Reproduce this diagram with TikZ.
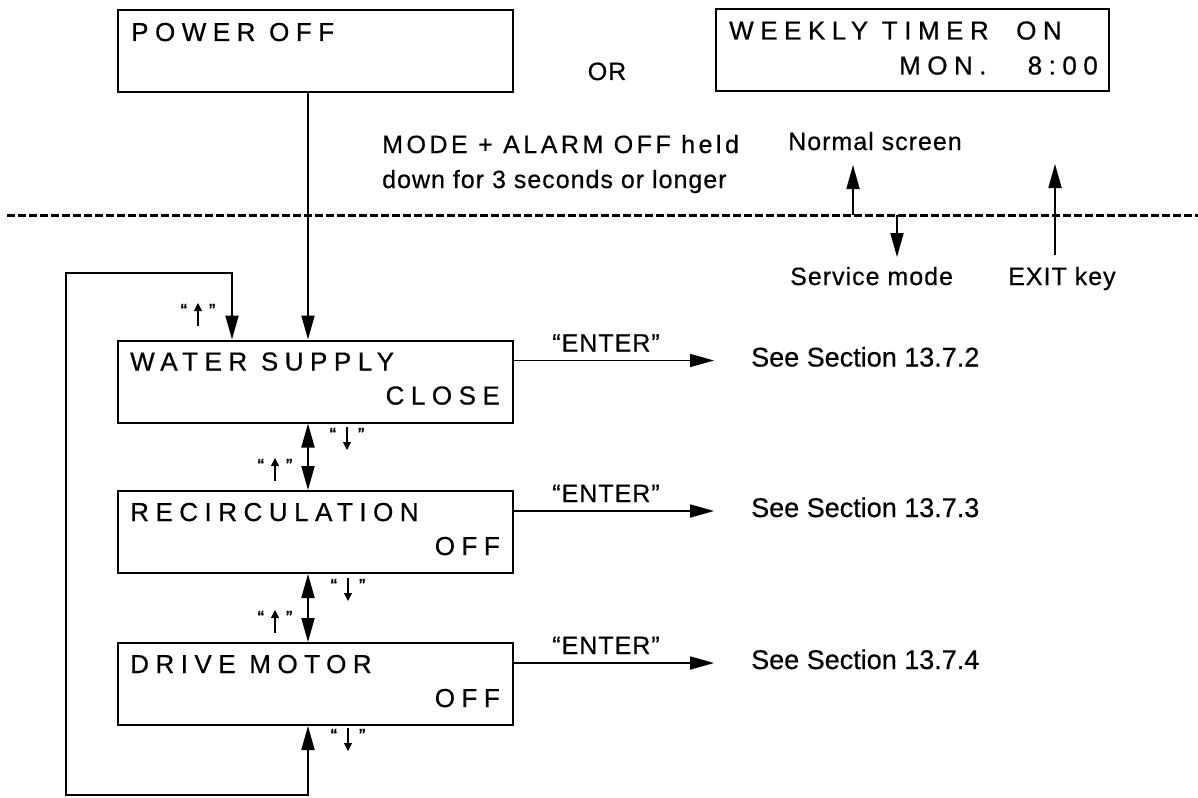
\documentclass[tikz,border=0pt]{standalone}
\usepackage{fontspec}
\setmainfont[FakeBold=0.5]{Liberation Sans}
\newfontfamily\lcdfont[LetterSpace=25,FakeBold=0.6]{Liberation Sans}
\newfontfamily\wideA[LetterSpace=14,FakeBold=0.5]{Liberation Sans}
\newfontfamily\wideB[LetterSpace=4,FakeBold=0.5]{Liberation Sans}
\newfontfamily\wideC[LetterSpace=4,FakeBold=0.5]{Liberation Sans}
\newfontfamily\quotefont[FakeBold=1.5]{Liberation Sans}
\usetikzlibrary{arrows.meta,calc}
\newcommand{\keyup}{“\hspace{7pt}\tikz[baseline=0pt]\draw[line width=1.1pt,-{Triangle[length=8pt,width=8pt]}] (0pt,-9pt) -- (0pt,14pt);\hspace{7pt}”}
\newcommand{\keydown}{“\hspace{7pt}\tikz[baseline=0pt]\draw[line width=1.1pt,-{Triangle[length=8pt,width=8pt]}] (0pt,14pt) -- (0pt,-9pt);\hspace{7pt}”}
\begin{document}
\begin{tikzpicture}[x=1pt,y=-1pt,
  box/.style={draw,line width=2pt,minimum width=395pt,minimum height=82pt,inner sep=0pt},
  lcd/.style={font=\lcdfont\fontsize{26}{30}\selectfont,inner sep=0pt},
  lbl/.style={font=\wideC\fontsize{25}{30}\selectfont,inner sep=0pt},
  secl/.style={font=\fontsize{27}{30}\selectfont,inner sep=0pt},
  conn/.style={line width=1.8pt,-{Triangle[length=24pt,width=13pt]}},
  both/.style={line width=1.8pt,{Triangle[length=24pt,width=13pt]}-{Triangle[length=24pt,width=13pt]}},
  keylbl/.style={font=\quotefont\fontsize{19}{20}\selectfont,inner sep=0pt,anchor=base},
  sepline/.style={line width=3pt,dash pattern=on 8pt off 3pt},
]
\useasboundingbox (0,0) rectangle (1198,797);

% boxes
\node[box] (pwr) at (315.5,51) {};
\node[box,minimum width=393pt] (wk) at (912.5,50.5) {};
\node[box] (ws) at (315.5,381.5) {};
\node[box] (rc) at (315.5,532) {};
\node[box] (ds) at (315.5,684) {};

% box texts
\node[lcd,anchor=base west] (pwrt) at ($(pwr.north west)+(14,32)$) {POWER OFF};
\node[lcd,anchor=base west] (wkt1) at ($(wk.north west)+(14,31)$) {WEEKLY TIMER\ \ ON};
\node[lcd,anchor=base east] (wkt2) at ($(wk.north east)+(-12,66)$) {MON.\ \ \ 8:00};
\node[lcd,anchor=base west] (wst1) at ($(ws.north west)+(13,31)$) {WATER SUPPLY};
\node[lcd,anchor=base east] (wst2) at ($(ws.north east)+(-14,65)$) {CLOSE};
\node[lcd,anchor=base west] (rct1) at ($(rc.north west)+(13,31)$) {RECIRCULATION};
\node[lcd,anchor=base east] (rct2) at ($(rc.north east)+(-14,65)$) {OFF};
\node[lcd,anchor=base west] (dst1) at ($(ds.north west)+(13,31)$) {DRIVE MOTOR};
\node[lcd,anchor=base east] (dst2) at ($(ds.north east)+(-14,65)$) {OFF};

% top texts
\node[lbl,anchor=base] (or) at (607,80) {OR};
\node[font=\wideA\fontsize{25}{30}\selectfont,inner sep=0pt,anchor=base west] (m1) at (382,153) {MODE + ALARM OFF held};
\node[font=\wideB\fontsize{25}{30}\selectfont,inner sep=0pt,anchor=base west] (m2) at (382,188) {down for 3 seconds or longer};

% separator
\coordinate (dl) at (7,215);
\coordinate (dr) at (1198,215);
\draw[sepline] (dl) -- (dr);

% mode arrows
\coordinate (nsb) at (853,215); \coordinate (nst) at (853,165);
\draw[conn] (nsb) -- (nst);
\node[lbl,anchor=base west] (nsl) at (788,150) {Normal screen};
\coordinate (smt) at (897,215); \coordinate (smb) at (897,257);
\draw[conn] (smt) -- (smb);
\node[lbl,anchor=base west] (sml) at (790,285) {Service mode};
\coordinate (exb) at (1055,255); \coordinate (ext) at (1055,164);
\draw[conn] (exb) -- (ext);
\node[lbl,anchor=base west] (exl) at (1008,285) {EXIT key};

% main flow
\coordinate (mx) at (308,0);
\coordinate (lr) at (232,0);
\coordinate (lb) at (66,795);
\coordinate (lt) at (66,273);
\draw[conn] (pwr.south -| mx) -- (ws.north -| mx);
\draw[both] (ws.south -| mx) -- (rc.north -| mx);
\draw[both] (rc.south -| mx) -- (ds.north -| mx);
\draw[both] (ds.south -| mx) |- (lb) -- (lt) -| (ws.north -| lr);

% key labels
\node[keylbl] (k0) at (198,317) {\keyup};
\node[keylbl] (k1d) at (347,441) {\keydown};
\node[keylbl] (k1u) at (275,472) {\keyup};
\node[keylbl] (k2d) at (348,592) {\keydown};
\node[keylbl] (k2u) at (275,624) {\keyup};
\node[keylbl] (k3d) at (348,742) {\keydown};

% ENTER arrows
\coordinate (wsa) at ($(ws.north east)+(0,21)$);
\coordinate (wse) at ($(wsa)+(200,0)$);
\draw[conn] (wsa) -- (wse);
\node[lbl,anchor=base] (en1) at ($(wsa)+(92,-9)$) {“ENTER”};
\node[secl,anchor=base west] (se1) at ($(wsa)+(237,6)$) {See Section 13.7.2};

\coordinate (rca) at ($(rc.north east)+(0,21)$);
\coordinate (rce) at ($(rca)+(200,0)$);
\draw[conn] (rca) -- (rce);
\node[lbl,anchor=base] (en2) at ($(rca)+(92,-9)$) {“ENTER”};
\node[secl,anchor=base west] (se2) at ($(rca)+(237,6)$) {See Section 13.7.3};

\coordinate (dsa) at ($(ds.north east)+(0,21)$);
\coordinate (dse) at ($(dsa)+(200,0)$);
\draw[conn] (dsa) -- (dse);
\node[lbl,anchor=base] (en3) at ($(dsa)+(92,-9)$) {“ENTER”};
\node[secl,anchor=base west] (se3) at ($(dsa)+(237,6)$) {See Section 13.7.4};
\end{tikzpicture}
\end{document}
